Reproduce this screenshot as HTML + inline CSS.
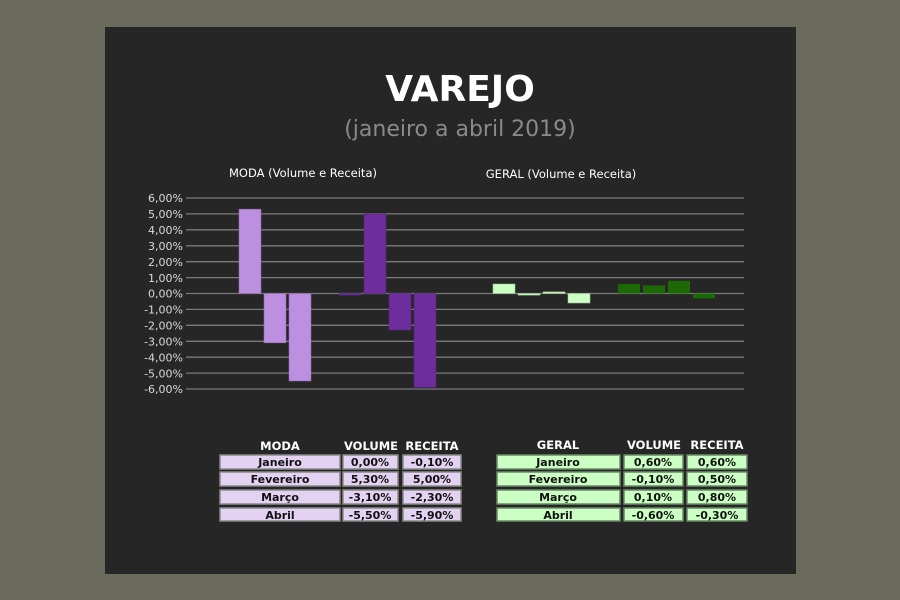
<!DOCTYPE html>
<html><head><meta charset="utf-8"><style>
body{margin:0;width:900px;height:600px;background:#6b6b5d;overflow:hidden}
svg{display:block}
text{font-family:"DejaVu Sans","Liberation Sans",sans-serif}
</style></head><body>
<svg width="900" height="600" xmlns="http://www.w3.org/2000/svg">
<rect x="0" y="0" width="900" height="600" fill="#6b6b5d"/>
<rect x="105" y="27" width="691" height="547" fill="#262626"/>
<text x="460" y="101" text-anchor="middle" font-size="36" font-weight="bold" fill="#fff">VAREJO</text>
<text x="460" y="136" text-anchor="middle" font-size="22" fill="#8a8a8a">(janeiro a abril 2019)</text>
<text x="303" y="177" text-anchor="middle" font-size="11.5" fill="#fff">MODA (Volume e Receita)</text>
<text x="561" y="178" text-anchor="middle" font-size="11.5" fill="#fff">GERAL  (Volume e Receita)</text>
<g stroke="#7a7a7a" stroke-width="1.3">
<line x1="186" x2="744" y1="198" y2="198"/><line x1="186" x2="744" y1="213.9" y2="213.9"/>
<line x1="186" x2="744" y1="229.8" y2="229.8"/><line x1="186" x2="744" y1="245.8" y2="245.8"/>
<line x1="186" x2="744" y1="261.7" y2="261.7"/><line x1="186" x2="744" y1="277.6" y2="277.6"/>
<line x1="186" x2="744" y1="293.5" y2="293.5"/><line x1="186" x2="744" y1="309.4" y2="309.4"/>
<line x1="186" x2="744" y1="325.3" y2="325.3"/><line x1="186" x2="744" y1="341.3" y2="341.3"/>
<line x1="186" x2="744" y1="357.2" y2="357.2"/><line x1="186" x2="744" y1="373.1" y2="373.1"/>
<line x1="186" x2="744" y1="389" y2="389"/>
</g>
<g font-size="11" fill="#d9d9d9" text-anchor="end">
<text x="183" y="202">6,00%</text><text x="183" y="218">5,00%</text><text x="183" y="234">4,00%</text>
<text x="183" y="250">3,00%</text><text x="183" y="266">2,00%</text><text x="183" y="282">1,00%</text>
<text x="183" y="297.5">0,00%</text><text x="183" y="313.5">-1,00%</text><text x="183" y="329.5">-2,00%</text>
<text x="183" y="345.5">-3,00%</text><text x="183" y="361.5">-4,00%</text><text x="183" y="377.5">-5,00%</text>
<text x="183" y="393">-6,00%</text>
</g>
<g fill="#bd8fe0" stroke="#8e6aa8" stroke-width="0.6">
<rect x="239" y="209.2" width="22" height="84.3"/>
<rect x="264" y="293.5" width="22" height="49.3"/>
<rect x="289" y="293.5" width="22" height="87.5"/>
</g>
<g fill="#6d2d9c" stroke="#55257a" stroke-width="0.6">
<rect x="339" y="293.5" width="22" height="1.6"/>
<rect x="364" y="214" width="22" height="79.5"/>
<rect x="389" y="293.5" width="22" height="36.6"/>
<rect x="414" y="293.5" width="22" height="93.8"/>
</g>
<g fill="#ccffc4" stroke="#9bbf95" stroke-width="0.6">
<rect x="493" y="284" width="22" height="9.5"/>
<rect x="518" y="293.5" width="22" height="1.6"/>
<rect x="543" y="291.9" width="22" height="1.6"/>
<rect x="568" y="293.5" width="22" height="9.5"/>
</g>
<g fill="#1c6a06">
<rect x="618" y="284" width="22" height="9.5"/>
<rect x="643" y="285.5" width="22" height="8"/>
<rect x="668" y="280.8" width="22" height="12.7"/>
<rect x="693" y="293.5" width="22" height="4.8"/>
</g>
<g font-size="11.5" font-weight="bold" fill="#fff" text-anchor="middle">
<text x="280" y="450">MODA</text><text x="371" y="450">VOLUME</text><text x="432" y="450">RECEITA</text>
<text x="558" y="449">GERAL</text><text x="654" y="449">VOLUME</text><text x="717" y="449">RECEITA</text>
</g>
<g fill="#e4d2f2" stroke="#8a8a8a" stroke-width="1.5">
<rect x="220" y="455" width="120" height="14"/><rect x="343" y="455" width="55" height="14"/><rect x="403" y="455" width="58" height="14"/>
<rect x="220" y="472" width="120" height="14"/><rect x="343" y="472" width="55" height="14"/><rect x="403" y="472" width="58" height="14"/>
<rect x="220" y="490" width="120" height="14"/><rect x="343" y="490" width="55" height="14"/><rect x="403" y="490" width="58" height="14"/>
<rect x="220" y="508" width="120" height="13"/><rect x="343" y="508" width="55" height="13"/><rect x="403" y="508" width="58" height="13"/>
</g>
<g fill="#ccffc4" stroke="#6a8a66" stroke-width="1.5">
<rect x="497" y="455" width="123" height="14"/><rect x="624" y="455" width="59" height="14"/><rect x="687" y="455" width="60" height="14"/>
<rect x="497" y="472" width="123" height="14"/><rect x="624" y="472" width="59" height="14"/><rect x="687" y="472" width="60" height="14"/>
<rect x="497" y="490" width="123" height="14"/><rect x="624" y="490" width="59" height="14"/><rect x="687" y="490" width="60" height="14"/>
<rect x="497" y="508" width="123" height="13"/><rect x="624" y="508" width="59" height="13"/><rect x="687" y="508" width="60" height="13"/>
</g>
<g font-size="11" font-weight="bold" fill="#111" text-anchor="middle">
<text x="280" y="466">Janeiro</text><text x="370" y="466">0,00%</text><text x="432" y="466">-0,10%</text>
<text x="280" y="483">Fevereiro</text><text x="370" y="483">5,30%</text><text x="432" y="483">5,00%</text>
<text x="280" y="501">Março</text><text x="370" y="501">-3,10%</text><text x="432" y="501">-2,30%</text>
<text x="280" y="519">Abril</text><text x="370" y="519">-5,50%</text><text x="432" y="519">-5,90%</text>
<text x="558" y="466">Janeiro</text><text x="653" y="466">0,60%</text><text x="717" y="466">0,60%</text>
<text x="558" y="483">Fevereiro</text><text x="653" y="483">-0,10%</text><text x="717" y="483">0,50%</text>
<text x="558" y="501">Março</text><text x="653" y="501">0,10%</text><text x="717" y="501">0,80%</text>
<text x="558" y="519">Abril</text><text x="653" y="519">-0,60%</text><text x="717" y="519">-0,30%</text>
</g>
</svg>
</body></html>
